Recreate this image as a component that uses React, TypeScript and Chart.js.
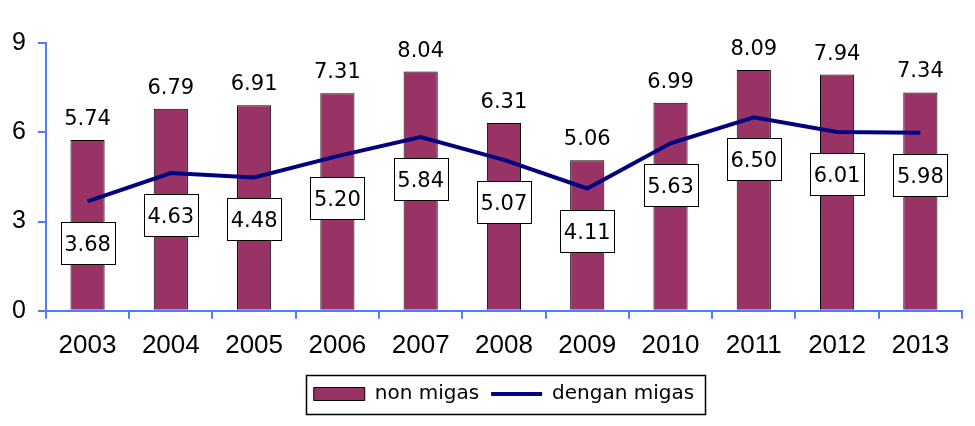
import React, { useEffect, useRef } from "react";
import { Chart, registerables } from "chart.js";

Chart.register(...registerables);

const years = ["2003", "2004", "2005", "2006", "2007", "2008", "2009", "2010", "2011", "2012", "2013"];
const nonMigas = [5.74, 6.79, 6.91, 7.31, 8.04, 6.31, 5.06, 6.99, 8.09, 7.94, 7.34];
const denganMigas = [3.68, 4.63, 4.48, 5.2, 5.84, 5.07, 4.11, 5.63, 6.5, 6.01, 5.98];
const yTicks = [0, 3, 6, 9];
const seriesNames = ["non migas", "dengan migas"];

const AXIS_FONT = "'Liberation Sans', Arial, sans-serif";
const LABEL_FONT = "'DejaVu Sans', Verdana, sans-serif";
const BAR_COLOR = "#993366";
const LINE_COLOR = "#000080";
const AXIS_COLOR = "#4f7bff";

const valueLabels = {
  id: "valueLabels",
  afterDatasetsDraw(chart: any) {
    const ctx = chart.ctx;
    ctx.save();
    ctx.font = `21px ${LABEL_FONT}`;
    ctx.textAlign = "center";
    ctx.textBaseline = "alphabetic";
    const barMeta = chart.getDatasetMeta(0);
    barMeta.data.forEach((el: any, i: number) => {
      ctx.fillStyle = "#000";
      ctx.fillText(nonMigas[i].toFixed(2), el.x, el.y - 15);
    });
    const lineMeta = chart.getDatasetMeta(1);
    lineMeta.data.forEach((el: any, i: number) => {
      const text = denganMigas[i].toFixed(2);
      const w = Math.round(ctx.measureText(text).width + 7);
      const h = 42;
      const cx = el.x;
      const cy = el.y + 42;
      const x0 = Math.round(cx - w / 2) + 0.5;
      const y0 = Math.round(cy - h / 2) + 0.5;
      ctx.fillStyle = "#fff";
      ctx.fillRect(x0, y0, w, h);
      ctx.strokeStyle = "#000";
      ctx.lineWidth = 1;
      ctx.strokeRect(x0, y0, w, h);
      ctx.fillStyle = "#000";
      ctx.fillText(text, cx, cy + 8);
    });
    ctx.restore();
  },
};

const legendBorder = {
  id: "legendBorder",
  afterDraw(chart: any) {
    const hb = chart.legend && chart.legend.legendHitBoxes;
    if (!hb || !hb.length) return;
    const first = hb[0];
    const last = hb[hb.length - 1];
    const left = Math.round(first.left - 8) + 0.5;
    const right = Math.round(last.left + last.width + 11) + 0.5;
    const cy = first.top + first.height / 2;
    const top = Math.round(cy - 19.5) + 0.5;
    const ctx = chart.ctx;
    ctx.save();
    ctx.strokeStyle = "#000";
    ctx.lineWidth = 1.5;
    ctx.strokeRect(left, top, right - left, 39);
    ctx.restore();
  },
};

export default function App() {
  const ref = useRef<HTMLCanvasElement | null>(null);
  useEffect(() => {
    document.body.style.margin = "0";
    const canvas = ref.current;
    if (!canvas) return;
    const chart = new Chart(canvas, {
      type: "bar",
      data: {
        labels: years,
        datasets: [
          {
            type: "bar",
            label: seriesNames[0],
            data: nonMigas,
            backgroundColor: BAR_COLOR,
            borderColor: "#000",
            borderWidth: 1,
            categoryPercentage: 1,
            barPercentage: 0.41,
            order: 1,
          } as any,
          {
            type: "line",
            label: seriesNames[1],
            data: denganMigas,
            borderColor: LINE_COLOR,
            backgroundColor: LINE_COLOR,
            borderWidth: 4,
            pointRadius: 0,
            tension: 0,
            fill: false,
            order: 0,
          } as any,
        ],
      },
      options: {
        responsive: false,
        animation: false,
        layout: { padding: { left: 0, right: 13, top: 43, bottom: 12 } },
        plugins: {
          tooltip: { enabled: false },
          legend: {
            position: "bottom",
            fullSize: false,
            labels: {
              usePointStyle: true,
              pointStyleWidth: 51,
              boxHeight: 13,
              padding: 12,
              color: "#000",
              font: { family: LABEL_FONT, size: 20 },
              generateLabels: (chart: any) => [
                {
                  text: chart.data.datasets[0].label,
                  fillStyle: BAR_COLOR,
                  strokeStyle: "#000",
                  lineWidth: 1,
                  pointStyle: "rect",
                  datasetIndex: 0,
                  hidden: false,
                  fontColor: "#000",
                },
                {
                  text: chart.data.datasets[1].label,
                  fillStyle: LINE_COLOR,
                  strokeStyle: LINE_COLOR,
                  lineWidth: 4,
                  pointStyle: "line",
                  datasetIndex: 1,
                  hidden: false,
                  fontColor: "#000",
                },
              ],
            },
          },
        },
        scales: {
          x: {
            offset: true,
            grid: {
              display: true,
              offset: true,
              drawOnChartArea: false,
              drawTicks: true,
              tickLength: 8,
              color: AXIS_COLOR,
              lineWidth: 2,
            },
            border: { color: AXIS_COLOR, width: 2 },
            ticks: {
              color: "#000",
              font: { family: AXIS_FONT, size: 26 },
              padding: 11,
              maxRotation: 0,
            },
          },
          y: {
            min: yTicks[0],
            max: yTicks[yTicks.length - 1],
            afterBuildTicks: (axis: any) => {
              axis.ticks = yTicks.map((v) => ({ value: v }));
            },
            grid: {
              display: true,
              drawOnChartArea: false,
              drawTicks: true,
              tickLength: 8,
              color: AXIS_COLOR,
              lineWidth: 2,
            },
            border: { color: AXIS_COLOR, width: 2 },
            ticks: {
              color: "#000",
              font: { family: AXIS_FONT, size: 25 },
              padding: 12,
            },
          },
        },
      },
      plugins: [valueLabels, legendBorder],
    });
    return () => chart.destroy();
  }, []);
  return (
    <div style={{ width: 975, height: 426, background: "#fff" }}>
      <canvas ref={ref} width={975} height={426} />
    </div>
  );
}
